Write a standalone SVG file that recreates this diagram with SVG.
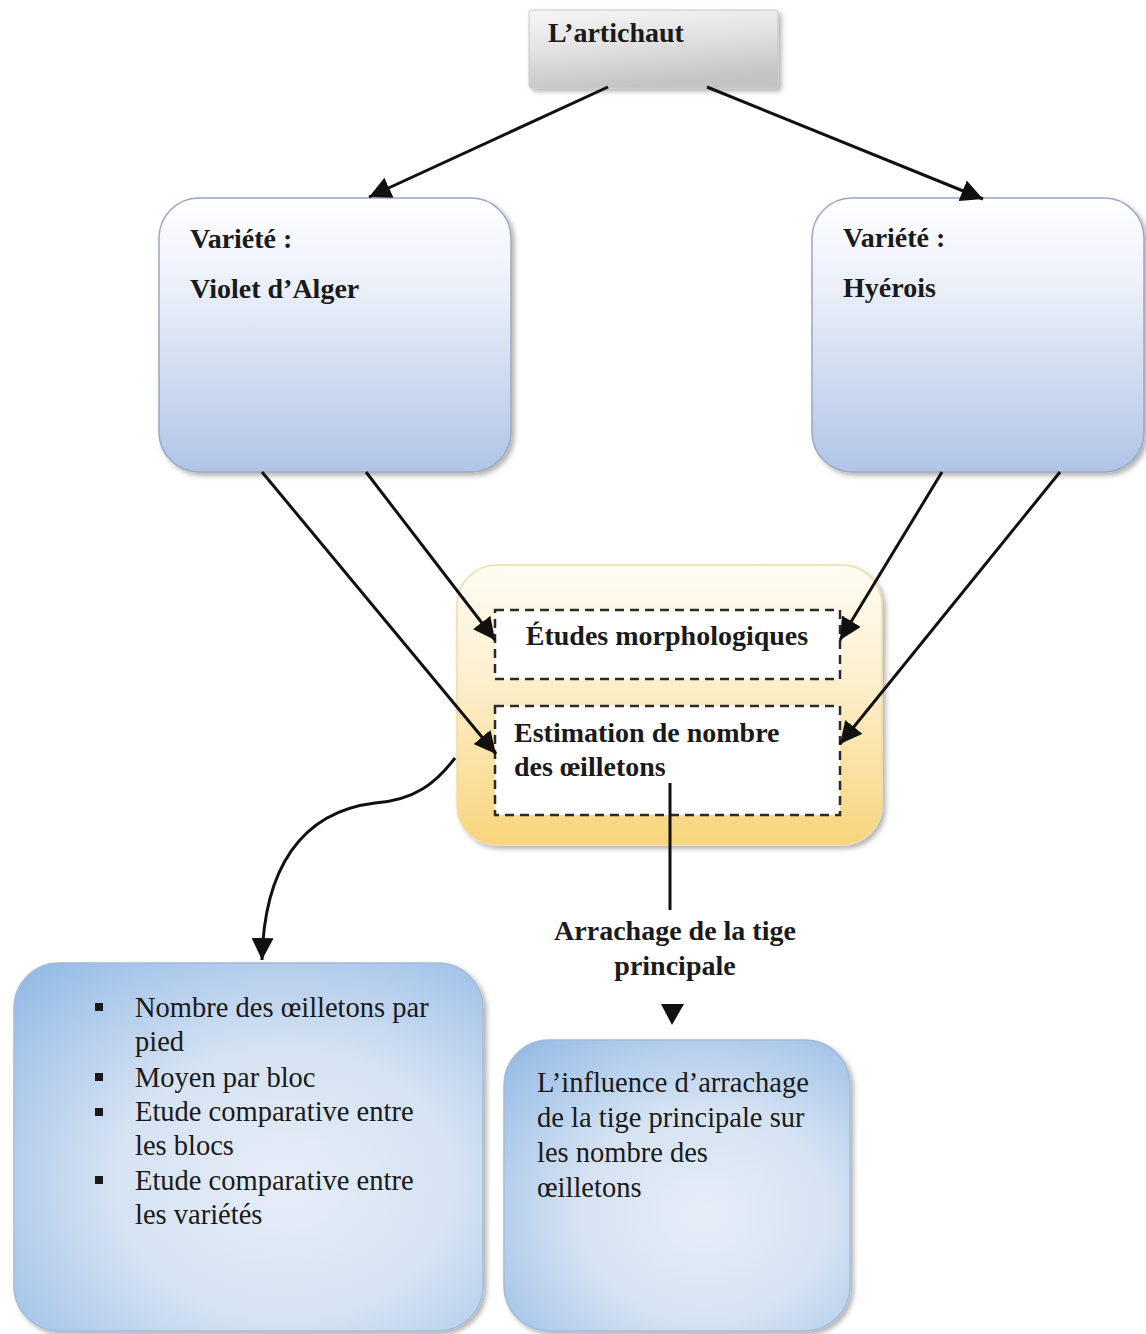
<svg xmlns="http://www.w3.org/2000/svg" width="1146" height="1334" viewBox="0 0 1146 1334">
  <defs>
    <linearGradient id="gGray" x1="0" y1="0" x2="0.3" y2="1">
      <stop offset="0" stop-color="#f6f6f6"/>
      <stop offset="0.5" stop-color="#e2e2e2"/>
      <stop offset="1" stop-color="#c4c4c4"/>
    </linearGradient>
    <linearGradient id="gBlueV" x1="0" y1="0" x2="0" y2="1">
      <stop offset="0" stop-color="#ffffff"/>
      <stop offset="0.35" stop-color="#e9eef8"/>
      <stop offset="1" stop-color="#b0c4e6"/>
    </linearGradient>
    <linearGradient id="gYellow" x1="0" y1="0" x2="0" y2="1">
      <stop offset="0" stop-color="#fffcf3"/>
      <stop offset="0.4" stop-color="#fdf0cf"/>
      <stop offset="1" stop-color="#f8d47c"/>
    </linearGradient>
    <radialGradient id="gBlueR" cx="0.58" cy="0.6" r="0.8">
      <stop offset="0" stop-color="#e6edf8"/>
      <stop offset="0.45" stop-color="#d6e3f3"/>
      <stop offset="1" stop-color="#93bae5"/>
    </radialGradient>
    <filter id="shadow" x="-10%" y="-10%" width="125%" height="125%">
      <feDropShadow dx="3" dy="3" stdDeviation="2.5" flood-color="#000" flood-opacity="0.3"/>
    </filter>
    <marker id="arrow" markerUnits="userSpaceOnUse" markerWidth="24" markerHeight="22" refX="22" refY="11" orient="auto">
      <path d="M0,0 L22,11 L0,22 Z" fill="#111"/>
    </marker>
    <style>
      .bold { font-family: "Liberation Serif", "Times New Roman", serif; font-weight: bold; font-size: 28px; fill: #1a1a1a; }
      .reg { font-family: "Liberation Serif", "Times New Roman", serif; font-size: 28.5px; fill: #1a1a1a; }
      .conn { stroke: #111; stroke-width: 3; fill: none; }
      .dash { fill: #ffffff; stroke: #2a2a2a; stroke-width: 2.5; stroke-dasharray: 9 6; }
    </style>
  </defs>

  <rect width="1146" height="1334" fill="#ffffff"/>

  <g id="node-artichaut">
    <rect x="529" y="10" width="249" height="78" rx="3" fill="url(#gGray)" stroke="#c8c8c8" stroke-width="1" filter="url(#shadow)"/>
    <text class="bold" x="548" y="42" font-size="28.5">L’artichaut</text>
  </g>

  <g id="node-violet">
    <rect x="159" y="198" width="352" height="274" rx="40" fill="url(#gBlueV)" stroke="#98a8c6" stroke-width="1.5" filter="url(#shadow)"/>
    <text class="bold" x="190" y="248">Variété :</text>
    <text class="bold" x="190" y="298">Violet d’Alger</text>
  </g>

  <g id="node-hyerois">
    <rect x="812" y="198" width="332" height="274" rx="40" fill="url(#gBlueV)" stroke="#98a8c6" stroke-width="1.5" filter="url(#shadow)"/>
    <text class="bold" x="843" y="247">Variété :</text>
    <text class="bold" x="843" y="297">Hyérois</text>
  </g>

  <g id="node-etudes-group">
    <rect x="457" y="565" width="425" height="280" rx="40" fill="url(#gYellow)" stroke="#f1dca6" stroke-width="1.5" filter="url(#shadow)"/>
  </g>

  <g id="node-morpho">
    <rect class="dash" x="495" y="610" width="345" height="69"/>
    <text class="bold" x="667" y="645" text-anchor="middle">Études morphologiques</text>
  </g>

  <g id="node-estimation">
    <rect class="dash" x="495" y="706" width="345" height="109"/>
    <text class="bold" x="514" y="742">Estimation de nombre</text>
    <text class="bold" x="514" y="776">des œilletons</text>
  </g>

  <g id="node-arrachage-label">
    <text class="bold" x="675" y="940" text-anchor="middle">Arrachage de la tige</text>
    <text class="bold" x="675" y="975" text-anchor="middle">principale</text>
  </g>

  <g id="node-resultats">
    <rect x="14" y="963" width="469" height="368" rx="45" fill="url(#gBlueR)" stroke="#a7bbd8" stroke-width="1.5" filter="url(#shadow)"/>
    <g fill="#1a1a1a">
      <rect x="95" y="1003" width="8" height="8"/>
      <rect x="95" y="1073" width="8" height="8"/>
      <rect x="95" y="1108" width="8" height="8"/>
      <rect x="95" y="1176" width="8" height="8"/>
    </g>
    <text class="reg" x="135" y="1017">Nombre des œilletons par</text>
    <text class="reg" x="135" y="1051">pied</text>
    <text class="reg" x="135" y="1087">Moyen par bloc</text>
    <text class="reg" x="135" y="1121">Etude comparative entre</text>
    <text class="reg" x="135" y="1155">les blocs</text>
    <text class="reg" x="135" y="1190">Etude comparative entre</text>
    <text class="reg" x="135" y="1224">les variétés</text>
  </g>

  <g id="node-influence">
    <rect x="504" y="1040" width="346" height="291" rx="45" fill="url(#gBlueR)" stroke="#a7bbd8" stroke-width="1.5" filter="url(#shadow)"/>
    <text class="reg" x="537" y="1092">L’influence d’arrachage</text>
    <text class="reg" x="537" y="1127">de la tige principale sur</text>
    <text class="reg" x="537" y="1162">les nombre des</text>
    <text class="reg" x="537" y="1197">œilletons</text>
  </g>

  <g id="connectors">
    <line class="conn" x1="608" y1="87" x2="369" y2="197" marker-end="url(#arrow)"/>
    <line class="conn" x1="707" y1="87" x2="983" y2="199" marker-end="url(#arrow)"/>
    <line class="conn" x1="366" y1="472" x2="495" y2="640" marker-end="url(#arrow)"/>
    <line class="conn" x1="262" y1="472" x2="496" y2="754" marker-end="url(#arrow)"/>
    <line class="conn" x1="942" y1="472" x2="840" y2="640" marker-end="url(#arrow)"/>
    <line class="conn" x1="1060" y1="472" x2="840" y2="744" marker-end="url(#arrow)"/>
    <path class="conn" d="M455,758 C436,783 415,800 375,803 C300,812 264,870 262,960" marker-end="url(#arrow)"/>
    <line class="conn" x1="670" y1="783" x2="670" y2="910"/>
    <path d="M661,1004 L684,1004 L672,1025 Z" fill="#111"/>
  </g>
</svg>
